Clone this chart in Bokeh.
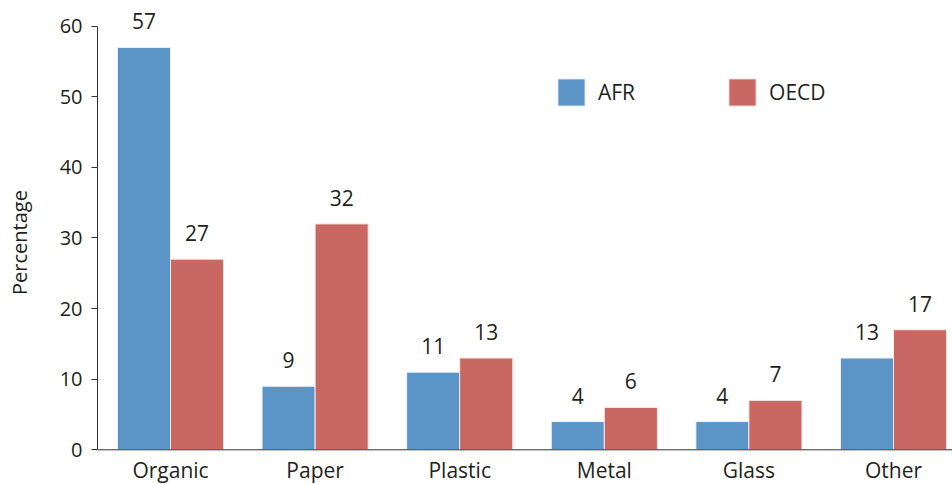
from bokeh.plotting import figure
from bokeh.models import (ColumnDataSource, Range1d, FixedTicker, Legend, LegendItem, Span)
from bokeh.transform import dodge
from bokeh.core.properties import value
from bokeh.embed import file_html
from bokeh.resources import INLINE

# Waste composition by material, percentage of total
categories = ["Organic", "Paper", "Plastic", "Metal", "Glass", "Other"]
afr = [57, 9, 11, 4, 4, 13]
oecd = [27, 32, 13, 6, 7, 17]
y_ticks = [0, 10, 20, 30, 40, 50, 60]

FONT = "Open Sans"
TEXT = "#231f20"
BLUE = "#5b94c7"
RED = "#c96762"
AXIS = "#333333"
BAR_W = 0.367

source = ColumnDataSource(data=dict(
    idx=list(range(len(categories))),
    cat=categories,
    afr=afr,
    oecd=oecd,
    afr_lbl=[str(v) for v in afr],
    oecd_lbl=[str(v) for v in oecd],
))

# the frame runs down to the bottom edge so the category names can sit under the baseline
p = figure(width=952, height=484, output_backend="svg", toolbar_location=None,
           x_range=Range1d(-0.505, 5.408), y_range=Range1d(-4.915, 63.64),
           min_border_left=97, min_border_right=0, min_border_top=0,
           min_border_bottom=0)
p.outline_line_color = None
p.grid.visible = False
p.background_fill_color = "white"
p.xaxis.visible = False

r_afr = p.vbar(x=dodge("idx", -BAR_W / 2, range=p.x_range), top="afr", width=BAR_W,
               source=source, fill_color=BLUE, line_color="#eef3f8", line_width=1)
r_oecd = p.vbar(x=dodge("idx", BAR_W / 2, range=p.x_range), top="oecd", width=BAR_W,
                source=source, fill_color=RED, line_color="#f6e8e7", line_width=1)

# baseline at zero
p.add_layout(Span(location=0, dimension="width", line_color=AXIS, line_width=1))

# value labels above the bars
for field, lbl, off in (("afr", "afr_lbl", -BAR_W / 2), ("oecd", "oecd_lbl", BAR_W / 2)):
    p.text(x=dodge("idx", off, range=p.x_range), y=field, text=lbl, source=source,
           text_align="center", text_baseline="alphabetic", y_offset=-26,
           text_font=value(FONT), text_font_size="21px", text_color=TEXT)

# category names under the baseline
p.text(x="idx", y=0, text="cat", source=source, text_align="center",
       text_baseline="alphabetic", y_offset=20,
       text_font=value(FONT), text_font_size="21px", text_color=TEXT)

# y axis
ya = p.yaxis[0]
ya.ticker = FixedTicker(ticks=y_ticks)
ya.bounds = (0, 60)
ya.axis_label = "Percentage"
ya.axis_label_text_font = FONT
ya.axis_label_text_font_style = "normal"
ya.axis_label_text_font_size = "20px"
ya.axis_label_text_color = TEXT
ya.axis_label_standoff = 24
ya.major_label_text_font = FONT
ya.major_label_text_font_size = "20px"
ya.major_label_text_color = TEXT
ya.major_label_standoff = 9
ya.major_tick_out = 6
ya.major_tick_in = 0
ya.minor_tick_out = 0
ya.minor_tick_in = 0
ya.axis_line_color = AXIS
ya.major_tick_line_color = AXIS

legend = Legend(items=[LegendItem(label="AFR", renderers=[r_afr]),
                       LegendItem(label="OECD", renderers=[r_oecd])],
                orientation="horizontal", location=(457, 375),
                glyph_width=34, glyph_height=34, label_standoff=10, spacing=90,
                padding=0, margin=0, border_line_color=None,
                background_fill_alpha=0, label_height=34,
                label_text_font=FONT, label_text_font_size="21px",
                label_text_color=TEXT)
p.add_layout(legend)

open("out.html", "w").write(file_html(p, INLINE))
